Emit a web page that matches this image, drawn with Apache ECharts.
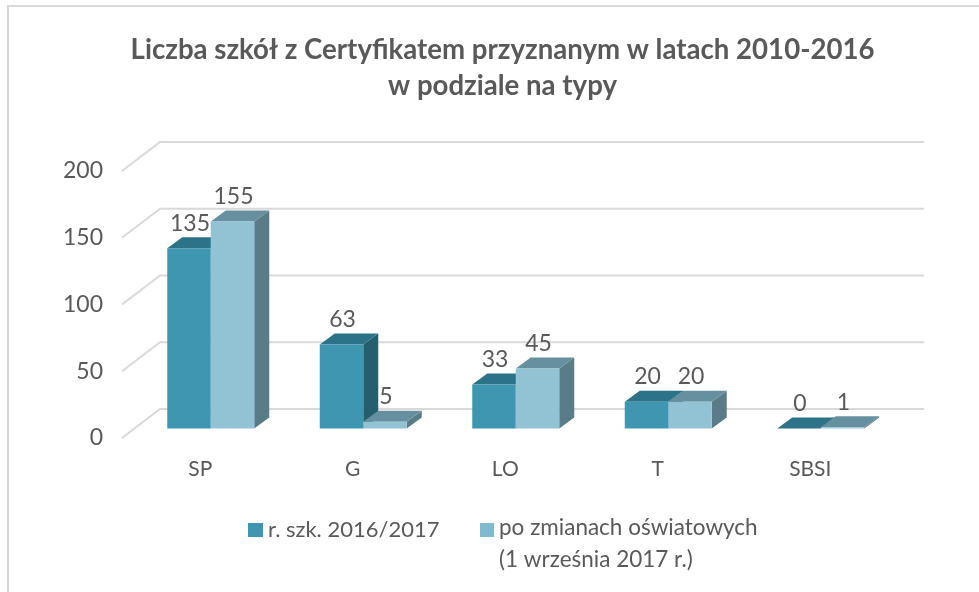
<!DOCTYPE html>
<html><head><meta charset="utf-8">
<style>html,body{margin:0;padding:0;background:#fff}#c{width:979px;height:592px;filter:blur(0.4px)}</style>
<script src="https://cdn.jsdelivr.net/npm/echarts@6/dist/echarts.min.js"></script>
</head><body><div id="c"></div>
<script>
const categories = ['SP','G','LO','T','SBSI'];
const seriesA = [135,63,33,20,0];
const seriesB = [155,5,45,20,1];
const yTicks = [0,50,100,150,200];
const nameA = 'r. szk. 2016/2017';
const nameB = 'po zmianach oświatowych\n(1 września 2017 r.)';
const titleText = 'Liczba szkół z Certyfikatem przyznanym w latach 2010-2016\nw podziale na typy';

const FONT='Lato', TXT='#595959';
const WALL={dx:37.5,dy:-29}, BAR={dx:10.5,dy:-9.5}, DEPTH={dx:15,dy:-11}, RATIO=0.2852;

function poly(points,fill){return {type:'polygon',shape:{points},style:{fill}};}
function barItem(side,cols){
  return function(params,api){
    const i=api.value(0), v=api.value(1);
    const band=api.size([1,0])[0], w=band*RATIO;
    const top=api.coord([i,v]), base=api.coord([i,0]);
    const x0=top[0]+BAR.dx+(side<0?-w:0), x1=x0+w;
    const yt=top[1]+BAR.dy, yb=base[1]+BAR.dy;
    const d=DEPTH;
    return {type:'group',children:[
      poly([[x1,yt],[x1+d.dx,yt+d.dy],[x1+d.dx,yb+d.dy],[x1,yb]],cols.side),
      poly([[x0,yt],[x0+d.dx,yt+d.dy],[x1+d.dx,yt+d.dy],[x1,yt]],cols.top),
      poly([[x0,yt],[x1,yt],[x1,yb],[x0,yb]],cols.front),
      {type:'text',style:{text:String(v),x:(x0+x1)/2+1,y:yt-25,align:'center',verticalAlign:'middle',
        font:'23px '+FONT,fill:TXT},z2:50}
    ]};
  };
}
function wallItem(params,api){
  const cs=params.coordSys, y=api.coord([0,api.value(1)])[1];
  const x=cs.x-2;
  return {type:'polyline',shape:{points:[[x,y],[x+WALL.dx+.5,y+WALL.dy],[cs.x+cs.width+WALL.dx,y+WALL.dy]]},
    style:{fill:null,stroke:'#d9d9d9',lineWidth:2}};
}
const colsA={front:'#3f96b0',top:'#2d7387',side:'#245f6f'};
const colsB={front:'#92c3d5',top:'#66909f',side:'#5a7b88'};
const legendText={fontFamily:FONT,fontSize:22,color:TXT,lineHeight:32};

const chart=echarts.init(document.getElementById('c'));
chart.setOption({
  animation:false,backgroundColor:'#fff',
  title:{text:titleText,left:497.5,top:27,textAlign:'center',
    textStyle:{fontFamily:FONT,fontSize:27.6,fontWeight:'bold',color:TXT,lineHeight:36}},
  graphic:[{type:'rect',silent:true,z:-10,shape:{x:8,y:6,width:1100,height:800},style:{fill:null,stroke:'#d9d9d9',lineWidth:2}}],
  grid:{left:124,top:171,width:762.5,height:267,containLabel:false},
  xAxis:{type:'category',data:categories,axisLine:{show:false},axisTick:{show:false},splitLine:{show:false},
    axisLabel:{margin:21,fontFamily:FONT,fontSize:21,color:TXT}},
  yAxis:{type:'value',min:0,max:200,interval:50,axisLine:{show:false},axisTick:{show:false},splitLine:{show:false},
    axisLabel:{margin:21,fontFamily:FONT,fontSize:23,color:TXT,padding:[3,0,0,0]}},
  legend:[
    {left:248,top:514,padding:0,itemWidth:15,itemHeight:14,icon:'rect',selectedMode:false,textStyle:legendText,
      data:[nameA]},
    {left:480,top:512,padding:0,itemWidth:14,itemHeight:42,selectedMode:false,
      textStyle:Object.assign({},legendText,{fontSize:22.5}),
      icon:'path://M0 0H14V14H0ZM0 42H.01V42.01H0Z',data:[nameB]}
  ],
  series:[
    {type:'custom',silent:true,z:1,renderItem:wallItem,data:yTicks.map(t=>[0,t]),encode:{x:0,y:1}},
    {type:'custom',name:nameA,z:2,renderItem:barItem(-1,colsA),itemStyle:{color:colsA.front},
      data:seriesA.map((v,i)=>[i,v]),encode:{x:0,y:1}},
    {type:'custom',name:nameB,z:3,renderItem:barItem(1,colsB),itemStyle:{color:'#7fbad0'},
      data:seriesB.map((v,i)=>[i,v]),encode:{x:0,y:1}}
  ]
});
</script></body></html>
